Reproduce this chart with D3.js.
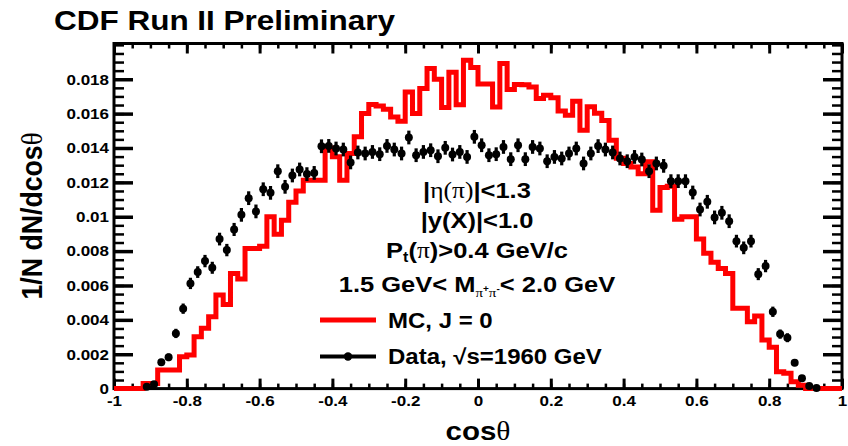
<!DOCTYPE html>
<html>
<head>
<meta charset="utf-8">
<script src="https://cdn.jsdelivr.net/npm/d3@7"></script>
<style>
  body { margin: 0; background: #fff; }
  svg { display: block; }
  text { font-family: "Liberation Sans", Arial, Helvetica, sans-serif; font-weight: bold; fill: #000; }
  .greek { font-family: "Liberation Serif", "Times New Roman", serif; font-weight: normal; }
</style>
</head>
<body>
<svg id="chart" width="848" height="446"></svg>
<script>
// histogram binning, 100 bins between -1 and 1
var cosMin = -1, cosMax = 1, nBins = 100;

// MC, J = 0 (red histogram), one value per bin
var mcValues = [
  0, 0, 0, 0, 0.0003, 0.0003, 0.00108, 0.00108, 0.00108, 0.00186,
  0.00195, 0.00302, 0.00351, 0.00418, 0.00544, 0.0049, 0.0067, 0.00638, 0.00815, 0.00815,
  0.00828, 0.01, 0.00898, 0.0098, 0.01085, 0.0115, 0.01213, 0.01213, 0.01213, 0.014,
  0.01349, 0.01213, 0.01368, 0.01465, 0.01601, 0.01653, 0.01645, 0.01626, 0.01581, 0.01556,
  0.01726, 0.01601, 0.01746, 0.01862, 0.018, 0.01635, 0.0184, 0.01652, 0.0191, 0.01868,
  0.01772, 0.01772, 0.01639, 0.01891, 0.0174, 0.0177, 0.01768, 0.01755, 0.01688, 0.01707,
  0.01692, 0.01615, 0.01591, 0.01672, 0.01503, 0.0164, 0.01602, 0.0156, 0.01445, 0.0134,
  0.0131, 0.0129, 0.0125, 0.0132, 0.01038, 0.0117, 0.01178, 0.00985, 0.01, 0.01,
  0.0087, 0.00787, 0.00735, 0.00699, 0.0067, 0.00467, 0.00467, 0.00389, 0.00423, 0.00283,
  0.0024, 0.00098, 0.0009, 0.0004, 0.0002, 0, 0, 0, 0, 0
];

// Data, sqrt(s)=1960 GeV (black points), null = empty bin
var dataValues = [
  null, null, null, null, 0.00011, 0.00025, 0.00153, 0.00182, 0.00321, 0.00465,
  0.00612, 0.00678, 0.00742, 0.00703, 0.0087, 0.00806, 0.00926, 0.01011, 0.01108, 0.01031,
  0.0116, 0.01139, 0.01265, 0.01174, 0.0124, 0.01275, 0.01248, 0.01255, 0.0141, 0.01412,
  0.01397, 0.01391, 0.01316, 0.01374, 0.01368, 0.01377, 0.01364, 0.01412, 0.01391, 0.01368,
  0.01461, 0.01358, 0.01377, 0.01387, 0.01352, 0.01401, 0.01362, 0.01377, 0.01348, 0.01465,
  0.01416, 0.01358, 0.01364, 0.01406, 0.01335, 0.01416, 0.01335, 0.01406, 0.01397, 0.01323,
  0.01348, 0.01339, 0.01368, 0.01397, 0.0131, 0.01368, 0.01411, 0.01391, 0.01374, 0.01339,
  0.01323, 0.01348, 0.01333, 0.01265, 0.0131, 0.01296, 0.01207, 0.01207, 0.01207, 0.01141,
  0.01042, 0.01087, 0.00996, 0.01023, 0.00974, 0.00858, 0.00819, 0.00858, 0.00666, 0.00713,
  0.00447, 0.00317, 0.00296, 0.00151, 0.0006, 0.00015, 0.00003, null, null, null
];

var dataErrors = [
  null, null, null, null, 0.00008, 0.0001, 0.0002, 0.00022, 0.00027, 0.0003,
  0.00033, 0.00034, 0.00036, 0.00035, 0.00037, 0.00036, 0.00038, 0.0004, 0.0004, 0.0004,
  0.0004, 0.0004, 0.0004, 0.0004, 0.0004, 0.0004, 0.0004, 0.0004, 0.0004, 0.0004,
  0.0004, 0.0004, 0.0004, 0.0004, 0.0004, 0.0004, 0.0004, 0.0004, 0.0004, 0.0004,
  0.0004, 0.0004, 0.0004, 0.0004, 0.0004, 0.0004, 0.0004, 0.0004, 0.0004, 0.0004,
  0.0004, 0.0004, 0.0004, 0.0004, 0.0004, 0.0004, 0.0004, 0.0004, 0.0004, 0.0004,
  0.0004, 0.0004, 0.0004, 0.0004, 0.0004, 0.0004, 0.0004, 0.0004, 0.0004, 0.0004,
  0.0004, 0.0004, 0.0004, 0.0004, 0.0004, 0.0004, 0.0004, 0.0004, 0.0004, 0.0004,
  0.0004, 0.0004, 0.0004, 0.0004, 0.0004, 0.00037, 0.00037, 0.00037, 0.00035, 0.00036,
  0.0003, 0.00027, 0.00026, 0.0002, 0.00012, 0.00008, 0.00004, null, null, null
];

var xTicks = [-1, -0.8, -0.6, -0.4, -0.2, 0, 0.2, 0.4, 0.6, 0.8, 1];
var xTickLabels = ["-1", "-0.8", "-0.6", "-0.4", "-0.2", "0", "0.2", "0.4", "0.6", "0.8", "1"];
var yTicks = [0, 0.002, 0.004, 0.006, 0.008, 0.01, 0.012, 0.014, 0.016, 0.018];
var yTickLabels = ["0", "0.002", "0.004", "0.006", "0.008", "0.01", "0.012", "0.014", "0.016", "0.018"];

var frame = { left: 114, right: 842, top: 43.5, bottom: 388.6 };
var squash = 0.89; // the original canvas is slightly flattened

var svg = d3.select('#chart');

var x = d3.scaleLinear().domain([cosMin, cosMax]).range([frame.left, frame.right]);
var y = d3.scaleLinear().domain([0, 0.02008]).range([frame.bottom, frame.top]);
var binWidth = (cosMax - cosMin) / nBins;

// text with optional greek / sub / superscript pieces
function richText(px, py, size, anchor, parts, angle) {
  var tr = 'translate(' + px + ',' + py + ')';
  tr += angle ? ' rotate(' + angle + ') scale(' + squash + ',1)' : ' scale(1,' + squash + ')';
  var t = svg.append('text')
    .attr('transform', tr)
    .attr('text-anchor', anchor)
    .style('font-size', size + 'px');
  parts.forEach(function(p) {
    var s = t.append('tspan').text(p.t);
    if (p.greek) { s.attr('class', 'greek'); }
    if (p.size) { s.style('font-size', p.size + 'px'); }
    if (p.dy) { s.attr('dy', p.dy); }
  });
  return t;
}

// axes: ticks point into the frame, like ROOT
function styleAxis(g, width) {
  g.select('.domain').remove();
  g.selectAll('line').attr('stroke-width', width);
}

var minorX = x.ticks(40), minorY = y.ticks(40);

svg.append('g').attr('transform', 'translate(0,' + frame.bottom + ')')
  .call(d3.axisBottom(x).tickValues(minorX).tickSizeInner(-5).tickSizeOuter(0).tickFormat(''))
  .call(styleAxis, 2.5);
svg.append('g').attr('transform', 'translate(0,' + frame.top + ')')
  .call(d3.axisTop(x).tickValues(minorX).tickSizeInner(-5).tickSizeOuter(0).tickFormat(''))
  .call(styleAxis, 2.5);
svg.append('g').attr('transform', 'translate(' + frame.left + ',0)')
  .call(d3.axisLeft(y).tickValues(minorY).tickSizeInner(-10).tickSizeOuter(0).tickFormat(''))
  .call(styleAxis, 2.5);
svg.append('g').attr('transform', 'translate(' + frame.right + ',0)')
  .call(d3.axisRight(y).tickValues(minorY).tickSizeInner(-10).tickSizeOuter(0).tickFormat(''))
  .call(styleAxis, 2.5);

var xAxis = svg.append('g').attr('transform', 'translate(0,' + frame.bottom + ')')
  .call(d3.axisBottom(x).tickValues(xTicks).tickSizeInner(-10).tickSizeOuter(0).tickPadding(7)
    .tickFormat(function(d, i) { return xTickLabels[i]; }))
  .call(styleAxis, 3);
svg.append('g').attr('transform', 'translate(0,' + frame.top + ')')
  .call(d3.axisTop(x).tickValues(xTicks).tickSizeInner(-10).tickSizeOuter(0).tickFormat(''))
  .call(styleAxis, 3);
var yAxis = svg.append('g').attr('transform', 'translate(' + frame.left + ',0)')
  .call(d3.axisLeft(y).tickValues(yTicks).tickSizeInner(-19).tickSizeOuter(0).tickPadding(5)
    .tickFormat(function(d, i) { return yTickLabels[i]; }))
  .call(styleAxis, 3.5);
svg.append('g').attr('transform', 'translate(' + frame.right + ',0)')
  .call(d3.axisRight(y).tickValues(yTicks).tickSizeInner(-19).tickSizeOuter(0).tickFormat(''))
  .call(styleAxis, 3.5);

[xAxis, yAxis].forEach(function(a) {
  a.attr('font-family', null).attr('font-size', null);
  a.selectAll('text')
    .style('font-size', '17px')
    .attr('transform', 'scale(1,' + squash + ')');
});

svg.append('rect')
  .attr('x', frame.left).attr('y', frame.top)
  .attr('width', frame.right - frame.left).attr('height', frame.bottom - frame.top)
  .attr('fill', 'none').attr('stroke', '#000').attr('stroke-width', 3);

// MC histogram outline
var mcPoints = mcValues.map(function(v, i) { return [cosMin + i * binWidth, v]; });
mcPoints.push([cosMax, mcValues[nBins - 1]]);
svg.append('path')
  .datum(mcPoints)
  .attr('d', d3.line()
    .x(function(d) { return x(d[0]); })
    .y(function(d) { return y(d[1]); })
    .curve(d3.curveStepAfter))
  .attr('fill', 'none')
  .attr('stroke', '#ff0000')
  .attr('stroke-width', 5)
  .attr('stroke-linejoin', 'miter');

// data points with error bars
var points = dataValues.map(function(v, i) {
  return { c: cosMin + (i + 0.5) * binWidth, v: v, e: dataErrors[i] };
}).filter(function(d) { return d.v !== null; });

var dataG = svg.append('g');
dataG.selectAll('line.err').data(points).enter().append('line')
  .attr('class', 'err')
  .attr('x1', function(d) { return x(d.c); })
  .attr('x2', function(d) { return x(d.c); })
  .attr('y1', function(d) { return y(d.v - d.e); })
  .attr('y2', function(d) { return y(d.v + d.e); })
  .attr('stroke', '#000')
  .attr('stroke-width', 3.2);
dataG.selectAll('circle').data(points).enter().append('circle')
  .attr('cx', function(d) { return x(d.c); })
  .attr('cy', function(d) { return y(d.v); })
  .attr('r', 4)
  .attr('fill', '#000');

// titles
richText(54, 30, 31.5, 'start', [{ t: 'CDF Run II Preliminary' }]);
richText(478, 440, 29.5, 'middle', [{ t: 'cos' }, { t: 'θ', greek: true }]);
richText(41.5, 216, 30, 'middle', [{ t: '1/N dN/dcos' }, { t: 'θ', greek: true }], -90);

// cuts
richText(477, 198, 25.5, 'middle', [{ t: '|' }, { t: 'η(π)', greek: true }, { t: '|<1.3' }]);
richText(477, 227.5, 25.5, 'middle', [{ t: '|y(X)|<1.0' }]);
richText(477, 258, 25.5, 'middle', [
  { t: 'P' }, { t: 't', size: 16, dy: 5 }, { t: '(', dy: -5 }, { t: 'π', greek: true }, { t: ')>0.4 GeV/c' }
]);
richText(477, 291.5, 25.5, 'middle', [
  { t: '1.5 GeV< M' },
  { t: 'π', greek: true, size: 15, dy: 6 },
  { t: '+', size: 10, dy: -5 },
  { t: 'π', greek: true, size: 15, dy: 5 },
  { t: '-', size: 10, dy: -5 },
  { t: '< 2.0 GeV', dy: -1 }
]);

// legend
var legend = svg.append('g');
legend.append('line')
  .attr('x1', 320).attr('x2', 376).attr('y1', 320).attr('y2', 320)
  .attr('stroke', '#ff0000').attr('stroke-width', 5);
legend.append('line')
  .attr('x1', 320).attr('x2', 376).attr('y1', 356.5).attr('y2', 356.5)
  .attr('stroke', '#000').attr('stroke-width', 4);
legend.append('circle')
  .attr('cx', 348).attr('cy', 356.5).attr('r', 4.2).attr('fill', '#000');
richText(388, 328, 24, 'start', [{ t: 'MC, J = 0' }]);
richText(388, 364, 24, 'start', [{ t: 'Data, √s=1960 GeV' }]);
</script>
</body>
</html>
